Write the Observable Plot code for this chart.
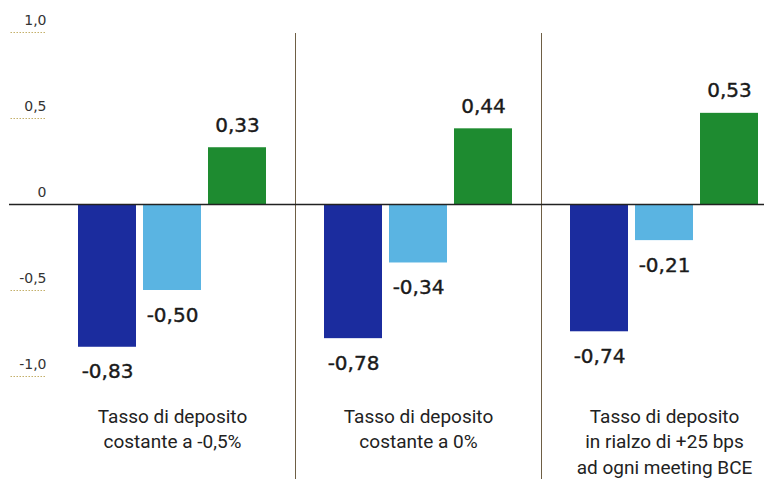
<!DOCTYPE html>
<html><head><meta charset="utf-8">
<script src="https://cdn.jsdelivr.net/npm/d3@7"></script>
<script src="https://cdn.jsdelivr.net/npm/@observablehq/plot@0.6"></script>
<style>
body{margin:0;background:#fff}
#chart svg{display:block}
</style>
</head><body><div id="chart"></div>
<script>
const groups = [
  "Tasso di deposito\ncostante a -0,5%",
  "Tasso di deposito\ncostante a 0%",
  "Tasso di deposito\nin rialzo di +25 bps\nad ogni meeting BCE"
];
const series = ["A", "B", "C"];
const valuesA = [-0.83, -0.78, -0.74];
const valuesB = [-0.50, -0.34, -0.21];
const valuesC = [0.33, 0.44, 0.53];
const yTicks = [1, 0.5, 0, -0.5, -1];
const yTickLabels = ["1,0", "0,5", "0", "-0,5", "-1,0"];
const colors = ["#1b2c9e", "#5ab4e2", "#1e8b30"];

const seriesValues = [valuesA, valuesB, valuesC];
const data = [];
groups.forEach((g, gi) => series.forEach((s, si) => data.push({group: g, series: s, value: seriesValues[si][gi]})));
const fmt = d => d.value.toFixed(2).replace(".", ",");

const chart = Plot.plot({
  width: 764,
  height: 479,
  marginTop: 32,
  marginBottom: 103,
  marginLeft: 49,
  marginRight: -23,
  style: {fontFamily: "DejaVu Sans", fontSize: "14px", color: "#222", background: "#fff"},
  fx: {domain: groups, axis: null, padding: 0},
  x: {domain: series, axis: null, paddingInner: 0.11, paddingOuter: 0.425},
  y: {domain: [-1, 1], axis: null},
  color: {domain: series, range: colors},
  marks: [
    Plot.frame({anchor: "right", stroke: "#6e5f45", strokeWidth: 1, insetBottom: -102, insetTop: 1}),
    Plot.barY(data, {fx: "group", x: "series", y: "value", fill: "series"}),
    Plot.ruleY([0], {stroke: "#222", strokeWidth: 1.4}),
    Plot.axisY({ticks: yTicks.filter(t => t !== 0), label: null, tickSize: 36, dx: -4, tickFormat: () => "", stroke: "#c4b06a", strokeWidth: 1.2, strokeDasharray: "1.5 1.5"}),
    Plot.axisY({ticks: [0], label: null, tickSize: 40, tickFormat: () => "", stroke: "#222", strokeWidth: 1.4}),
    Plot.text(yTicks, {y: d => d, text: (d, i) => yTickLabels[i], frameAnchor: "left", textAnchor: "end", dx: -3, dy: -12, fontSize: 14, fill: "#333", facetAnchor: "left"}),
    Plot.text(data.filter(d => d.value < 0), {fx: "group", x: "series", y: "value", text: fmt, lineAnchor: "top", dy: 17, fontSize: 20, fill: "#1a1a1a", stroke: "#1a1a1a", strokeWidth: 0.4}),
    Plot.text(data.filter(d => d.value >= 0), {fx: "group", x: "series", y: "value", text: fmt, lineAnchor: "bottom", dy: -16, fontSize: 20, fill: "#1a1a1a", stroke: "#1a1a1a", strokeWidth: 0.4}),
    Plot.text(groups, {fx: d => d, text: d => d, frameAnchor: "bottom", lineAnchor: "top", dy: 28, lineHeight: 1.35, fontSize: 19, fontFamily: "Roboto", fill: "#222"})
  ]
});
document.getElementById("chart").append(chart);
</script>
</body></html>
